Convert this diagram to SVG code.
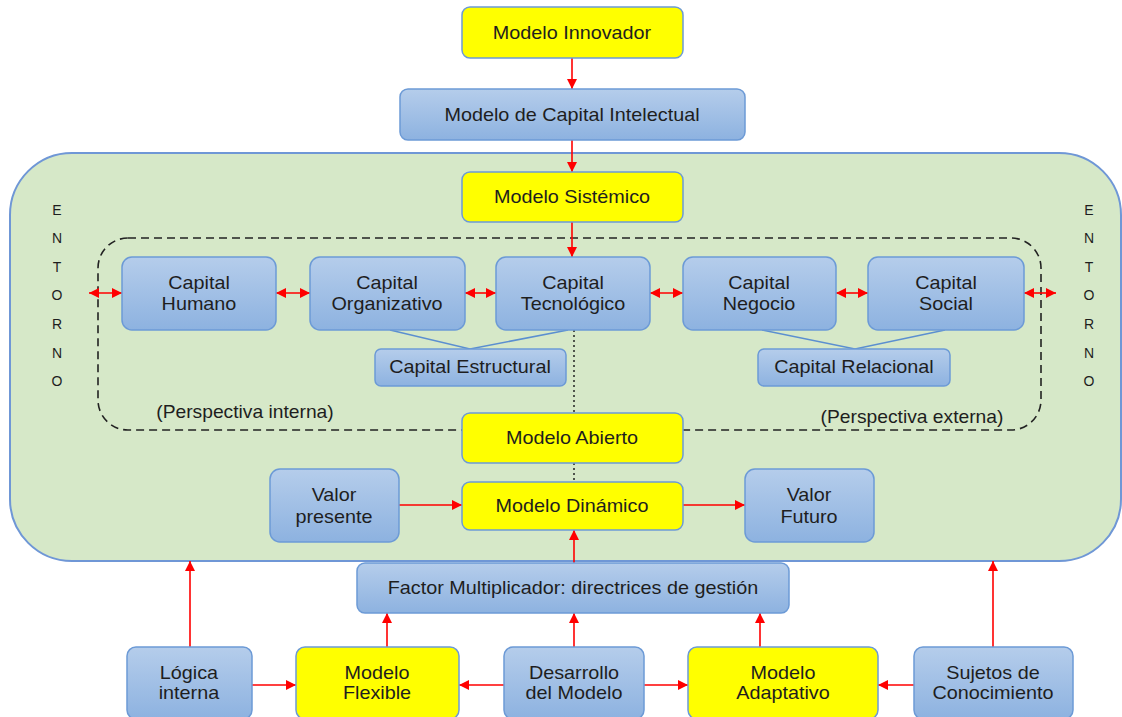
<svg xmlns="http://www.w3.org/2000/svg" width="1122" height="717" viewBox="0 0 1122 717">
  <style>
    .blue { fill: url(#blueGrad); stroke: #6c9ad6; stroke-width: 1.5; }
    .yellow { fill: #ffff00; stroke: #6c9ad6; stroke-width: 1.5; }
    .lbl { font-family: "Liberation Sans", Arial, sans-serif; font-size: 18px; fill: #1e1e1e; text-anchor: middle;
           transform-box: fill-box; transform-origin: center; transform: scaleX(1.1); }
    .persp { font-size: 17.5px; }
    .ent { font-family: "Liberation Sans", Arial, sans-serif; font-size: 14px; fill: #1e1e1e; text-anchor: middle; }
    .arrow { stroke: #ff0000; stroke-width: 1.6; fill: none; }
    .link { stroke: #5b8fd0; stroke-width: 1.5; fill: none; }
    .dot { stroke: #222; stroke-width: 1.5; stroke-dasharray: 2 3; fill: none; }
  </style>
  <defs>
    <linearGradient id="blueGrad" x1="0" y1="0" x2="0" y2="1">
      <stop offset="0" stop-color="#b5cdeb"/>
      <stop offset="1" stop-color="#8db2e0"/>
    </linearGradient>
    <marker id="head" viewBox="0 0 10 10" refX="10" refY="5" markerWidth="10" markerHeight="10" markerUnits="userSpaceOnUse" orient="auto-start-reverse">
      <path d="M0,0 L10,5 L0,10 Z" fill="#ff0000"/>
    </marker>
  </defs>

  <!-- environment container -->
  <g id="entorno">
    <rect x="10" y="153" width="1111" height="408" rx="62" fill="#d6e8c8" stroke="#6f97d6" stroke-width="2"/>
    <g class="ent">
      <text x="57" y="215">E</text><text x="57" y="243">N</text><text x="57" y="272">T</text>
      <text x="57" y="300">O</text><text x="57" y="329">R</text><text x="57" y="358">N</text><text x="57" y="386">O</text>
      <text x="1089" y="215">E</text><text x="1089" y="243">N</text><text x="1089" y="272">T</text>
      <text x="1089" y="300">O</text><text x="1089" y="329">R</text><text x="1089" y="358">N</text><text x="1089" y="386">O</text>
    </g>
  </g>

  <!-- perspectives frame -->
  <g id="perspectivas">
    <rect x="98" y="238" width="943" height="192" rx="30" fill="none" stroke="#222" stroke-width="1.6" stroke-dasharray="8 5"/>
    <text class="lbl persp" x="245" y="418">(Perspectiva interna)</text>
    <text class="lbl persp" x="912" y="423">(Perspectiva externa)</text>
  </g>

  <!-- connectors -->
  <g id="connectors">
    <line class="arrow" x1="572" y1="58" x2="572" y2="89" marker-end="url(#head)"/>
    <line class="arrow" x1="572" y1="140" x2="572" y2="172" marker-end="url(#head)"/>
    <line class="arrow" x1="572" y1="222" x2="572" y2="257" marker-end="url(#head)"/>

    <line class="arrow" x1="89" y1="293" x2="122" y2="293" marker-start="url(#head)" marker-end="url(#head)"/>
    <line class="arrow" x1="276" y1="293" x2="310" y2="293" marker-start="url(#head)" marker-end="url(#head)"/>
    <line class="arrow" x1="465" y1="293" x2="496" y2="293" marker-start="url(#head)" marker-end="url(#head)"/>
    <line class="arrow" x1="650" y1="293" x2="683" y2="293" marker-start="url(#head)" marker-end="url(#head)"/>
    <line class="arrow" x1="836" y1="293" x2="868" y2="293" marker-start="url(#head)" marker-end="url(#head)"/>
    <line class="arrow" x1="1024" y1="293" x2="1056" y2="293" marker-start="url(#head)" marker-end="url(#head)"/>

    <polyline class="link" points="390,330 470,349 568,330"/>
    <polyline class="link" points="762,330 855,349 945,330"/>

    <line class="dot" x1="574" y1="330" x2="574" y2="413"/>
    <line class="dot" x1="574" y1="463" x2="574" y2="482"/>

    <line class="arrow" x1="399" y1="505" x2="462" y2="505" marker-end="url(#head)"/>
    <line class="arrow" x1="683" y1="505" x2="745" y2="505" marker-end="url(#head)"/>
    <line class="arrow" x1="574" y1="563" x2="574" y2="530" marker-end="url(#head)"/>

    <line class="arrow" x1="190" y1="647" x2="190" y2="561" marker-end="url(#head)"/>
    <line class="arrow" x1="993" y1="647" x2="993" y2="561" marker-end="url(#head)"/>
    <line class="arrow" x1="387" y1="647" x2="387" y2="613" marker-end="url(#head)"/>
    <line class="arrow" x1="574" y1="647" x2="574" y2="613" marker-end="url(#head)"/>
    <line class="arrow" x1="760" y1="647" x2="760" y2="613" marker-end="url(#head)"/>

    <line class="arrow" x1="252" y1="685" x2="296" y2="685" marker-end="url(#head)"/>
    <line class="arrow" x1="504" y1="685" x2="459" y2="685" marker-end="url(#head)"/>
    <line class="arrow" x1="644" y1="685" x2="688" y2="685" marker-end="url(#head)"/>
    <line class="arrow" x1="914" y1="685" x2="878" y2="685" marker-end="url(#head)"/>
  </g>

  <!-- nodes -->
  <g id="modelo-innovador">
    <rect class="yellow" x="462" y="7" width="221" height="51" rx="8"/>
    <text class="lbl" x="572" y="39">Modelo Innovador</text>
  </g>
  <g id="modelo-capital-intelectual">
    <rect class="blue" x="400" y="89" width="345" height="51" rx="8"/>
    <text class="lbl" x="572" y="121">Modelo de Capital Intelectual</text>
  </g>
  <g id="modelo-sistemico">
    <rect class="yellow" x="462" y="172" width="221" height="50" rx="8"/>
    <text class="lbl" x="572" y="203">Modelo Sistémico</text>
  </g>

  <g id="capital-humano">
    <rect class="blue" x="122" y="257" width="154" height="73" rx="10"/>
    <text class="lbl" x="199" y="289">Capital</text>
    <text class="lbl" x="199" y="310">Humano</text>
  </g>
  <g id="capital-organizativo">
    <rect class="blue" x="310" y="257" width="155" height="73" rx="10"/>
    <text class="lbl" x="387" y="289">Capital</text>
    <text class="lbl" x="387" y="310">Organizativo</text>
  </g>
  <g id="capital-tecnologico">
    <rect class="blue" x="496" y="257" width="154" height="73" rx="10"/>
    <text class="lbl" x="573" y="289">Capital</text>
    <text class="lbl" x="573" y="310">Tecnológico</text>
  </g>
  <g id="capital-negocio">
    <rect class="blue" x="683" y="257" width="153" height="73" rx="10"/>
    <text class="lbl" x="759" y="289">Capital</text>
    <text class="lbl" x="759" y="310">Negocio</text>
  </g>
  <g id="capital-social">
    <rect class="blue" x="868" y="257" width="156" height="73" rx="10"/>
    <text class="lbl" x="946" y="289">Capital</text>
    <text class="lbl" x="946" y="310">Social</text>
  </g>

  <g id="capital-estructural">
    <rect class="blue" x="375" y="349" width="191" height="37" rx="6"/>
    <text class="lbl" x="470" y="373">Capital Estructural</text>
  </g>
  <g id="capital-relacional">
    <rect class="blue" x="758" y="349" width="192" height="37" rx="6"/>
    <text class="lbl" x="854" y="373">Capital Relacional</text>
  </g>

  <g id="modelo-abierto">
    <rect class="yellow" x="462" y="413" width="221" height="50" rx="8"/>
    <text class="lbl" x="572" y="444">Modelo Abierto</text>
  </g>
  <g id="valor-presente">
    <rect class="blue" x="270" y="469" width="129" height="73" rx="10"/>
    <text class="lbl" x="334" y="501">Valor</text>
    <text class="lbl" x="334" y="523">presente</text>
  </g>
  <g id="modelo-dinamico">
    <rect class="yellow" x="462" y="482" width="221" height="48" rx="8"/>
    <text class="lbl" x="572" y="512">Modelo Dinámico</text>
  </g>
  <g id="valor-futuro">
    <rect class="blue" x="745" y="469" width="129" height="73" rx="10"/>
    <text class="lbl" x="809" y="501">Valor</text>
    <text class="lbl" x="809" y="523">Futuro</text>
  </g>

  <g id="factor-multiplicador">
    <rect class="blue" x="357" y="563" width="432" height="50" rx="8"/>
    <text class="lbl" x="573" y="594">Factor Multiplicador: directrices de gestión</text>
  </g>

  <g id="logica-interna">
    <rect class="blue" x="127" y="647" width="125" height="72" rx="9"/>
    <text class="lbl" x="189" y="679">Lógica</text>
    <text class="lbl" x="189" y="699">interna</text>
  </g>
  <g id="modelo-flexible">
    <rect class="yellow" x="296" y="647" width="163" height="72" rx="9"/>
    <text class="lbl" x="377" y="679">Modelo</text>
    <text class="lbl" x="377" y="699">Flexible</text>
  </g>
  <g id="desarrollo-modelo">
    <rect class="blue" x="504" y="647" width="140" height="72" rx="9"/>
    <text class="lbl" x="574" y="679">Desarrollo</text>
    <text class="lbl" x="574" y="699">del Modelo</text>
  </g>
  <g id="modelo-adaptativo">
    <rect class="yellow" x="688" y="647" width="190" height="72" rx="9"/>
    <text class="lbl" x="783" y="679">Modelo</text>
    <text class="lbl" x="783" y="699">Adaptativo</text>
  </g>
  <g id="sujetos-conocimiento">
    <rect class="blue" x="914" y="647" width="159" height="72" rx="9"/>
    <text class="lbl" x="993" y="679">Sujetos de</text>
    <text class="lbl" x="993" y="699">Conocimiento</text>
  </g>
</svg>
